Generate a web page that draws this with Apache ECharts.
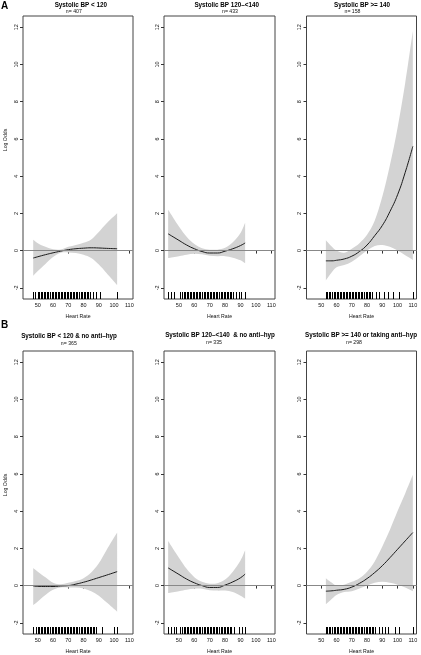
<!DOCTYPE html>
<html>
<head>
<meta charset="utf-8">
<script src="https://cdn.jsdelivr.net/npm/echarts@6/dist/echarts.min.js"></script>
<style>html,body{margin:0;padding:0;background:#fff;}#chart{width:421px;height:655px;}</style>
</head>
<body>
<div id="chart"></div>
<script>
// ---------- data ----------
const xTickVals = [50, 60, 70, 80, 90, 100, 110];
const yTickVals = [-2, 0, 2, 4, 6, 8, 10, 12];

const titles = [
  'Systolic BP < 120',
  'Systolic BP 120–<140',
  'Systolic BP >= 140',
  'Systolic BP < 120 & no anti–hyp',
  'Systolic BP 120–<140  & no anti–hyp',
  'Systolic BP >= 140 or taking anti–hyp'
];
const nLabels = ['n= 407', 'n= 433', 'n= 158', 'n= 365', 'n= 335', 'n= 298'];
const panelLetters = ['A', 'B'];

// Panel A1: SBP < 120
const hrA1  = [47, 50, 55, 60, 65, 70, 75, 80, 85, 90, 95, 102];
const fitA1 = [-0.4, -0.33, -0.22, -0.12, -0.03, 0.05, 0.1, 0.13, 0.15, 0.14, 0.12, 0.1];
const upA1  = [0.58, 0.4, 0.2, 0.07, 0.06, 0.2, 0.3, 0.42, 0.6, 1.0, 1.45, 2.0];
const loA1  = [-1.35, -1.1, -0.72, -0.35, -0.12, -0.1, -0.13, -0.22, -0.4, -0.75, -1.2, -1.85];
const rugA1 = [47, 48, 50, 51, 52, 53, 54, 55, 56, 57, 58, 59, 60, 61, 62, 63, 64, 65, 66, 67, 68, 69, 70, 71, 72, 73, 74, 75, 76, 77, 78, 79, 80, 81, 82, 83, 84, 86, 88, 91, 102];

// Panel A2: SBP 120-<140
const hrA2  = [43, 50, 55, 60, 65, 70, 75, 80, 85, 90, 93];
const fitA2 = [0.9, 0.55, 0.3, 0.1, -0.05, -0.13, -0.13, -0.03, 0.1, 0.27, 0.41];
const upA2  = [2.2, 1.3, 0.75, 0.35, 0.12, 0.05, 0.05, 0.15, 0.45, 0.95, 1.5];
const loA2  = [-0.4, -0.3, -0.22, -0.17, -0.2, -0.28, -0.3, -0.3, -0.38, -0.52, -0.68];
const rugA2 = [43, 45, 47, 51, 52, 53, 54, 55, 56, 57, 58, 59, 60, 61, 62, 63, 64, 65, 66, 67, 68, 69, 70, 71, 72, 73, 74, 75, 76, 77, 78, 79, 80, 81, 82, 83, 84, 85, 87, 89, 90, 93];

// Panel A3: SBP >= 140
const hrA3  = [53, 57, 60, 65, 70, 75, 80, 85, 90, 95, 100, 105, 110];
const fitA3 = [-0.55, -0.55, -0.52, -0.45, -0.3, -0.05, 0.3, 0.8, 1.35, 2.1, 3.0, 4.2, 5.6];
const upA3  = [0.55, 0.2, 0.0, -0.12, 0.1, 0.4, 0.85, 1.6, 2.9, 4.6, 6.6, 9.0, 11.8];
const loA3  = [-1.6, -1.15, -0.9, -0.78, -0.6, -0.3, 0.0, 0.25, 0.3, 0.2, 0.0, -0.25, -0.5];
const rugA3 = [53, 54, 55, 56, 57, 58, 59, 60, 61, 62, 63, 64, 65, 66, 67, 68, 69, 70, 71, 72, 73, 74, 75, 76, 77, 78, 79, 80, 81, 82, 83, 86, 88, 91, 94, 97, 101, 110];

// Panel B1: SBP < 120 & no anti-hyp
const hrB1  = [47, 50, 55, 60, 65, 70, 75, 80, 85, 90, 95, 102];
const fitB1 = [-0.02, -0.04, -0.05, -0.05, -0.02, 0.0, 0.08, 0.18, 0.3, 0.43, 0.56, 0.75];
const upB1  = [0.95, 0.75, 0.45, 0.15, 0.07, 0.15, 0.25, 0.4, 0.7, 1.2, 1.9, 2.85];
const loB1  = [-1.05, -0.85, -0.5, -0.22, -0.1, -0.1, -0.1, -0.15, -0.3, -0.55, -0.9, -1.4];
const rugB1 = [47, 49, 50, 51, 52, 53, 54, 55, 56, 57, 58, 59, 60, 61, 62, 63, 64, 65, 66, 67, 68, 69, 70, 71, 72, 73, 74, 75, 76, 77, 78, 79, 80, 81, 82, 83, 84, 85, 86, 87, 88, 92, 100, 102];

// Panel B2: SBP 120-<140 & no anti-hyp
const hrB2  = [43, 50, 55, 60, 65, 70, 75, 80, 85, 90, 93];
const fitB2 = [0.95, 0.6, 0.35, 0.15, 0.0, -0.1, -0.1, 0.03, 0.2, 0.42, 0.62];
const upB2  = [2.4, 1.5, 0.9, 0.45, 0.2, 0.1, 0.13, 0.33, 0.75, 1.35, 1.9];
const loB2  = [-0.4, -0.3, -0.22, -0.17, -0.17, -0.25, -0.27, -0.27, -0.35, -0.55, -0.7];
const rugB2 = [43, 45, 47, 48, 51, 52, 53, 54, 55, 56, 57, 58, 59, 60, 61, 62, 63, 64, 65, 66, 67, 68, 69, 70, 71, 72, 73, 74, 75, 76, 77, 78, 79, 80, 81, 82, 83, 84, 86, 89, 91, 93];

// Panel B3: SBP >= 140 or taking anti-hyp
const hrB3  = [53, 57, 60, 65, 70, 75, 80, 85, 90, 95, 100, 105, 110];
const fitB3 = [-0.3, -0.28, -0.25, -0.2, -0.08, 0.12, 0.38, 0.7, 1.07, 1.5, 1.95, 2.4, 2.85];
const upB3  = [0.4, 0.15, 0.0, 0.05, 0.2, 0.4, 0.75, 1.3, 2.1, 3.0, 4.0, 4.95, 5.95];
const loB3  = [-1.0, -0.7, -0.5, -0.35, -0.3, -0.15, 0.0, 0.15, 0.2, 0.15, 0.05, -0.1, -0.3];
const rugB3 = [53, 54, 55, 56, 57, 58, 59, 60, 61, 62, 63, 64, 65, 66, 67, 68, 69, 70, 71, 72, 73, 74, 75, 76, 77, 78, 79, 80, 81, 82, 83, 84, 85, 88, 90, 92, 94, 98, 101, 110];

// ---------- layout / style ----------
const X_MIN = 40.3, X_MAX = 112.4, Y_MIN = -2.6, Y_MAX = 12.6;
const FONT = '"Liberation Sans", Arial, Helvetica, sans-serif';
const gridRects = [
  [23, 16, 110, 283], [164, 16, 111, 283], [306.5, 16, 110, 283],
  [23, 351, 110, 283], [164, 351, 111, 283], [306.5, 351, 110, 283]
];
const titlePos = [[80.8, 5], [226.7, 5], [362, 5], [69, 336.5], [220, 335.5], [361, 335.5]];
const nPos = [[73.8, 11.7], [230, 11.7], [352.5, 11.7], [68.8, 343.5], [214, 342.5], [354, 342.5]];
const letterPos = [[4.5, 6], [4.5, 325.5]];
const logOddsPos = [[5.5, 140], [5.5, 485]];

const panels = [
  {hr: hrA1, fit: fitA1, up: upA1, lo: loA1, rug: rugA1},
  {hr: hrA2, fit: fitA2, up: upA2, lo: loA2, rug: rugA2},
  {hr: hrA3, fit: fitA3, up: upA3, lo: loA3, rug: rugA3},
  {hr: hrB1, fit: fitB1, up: upB1, lo: loB1, rug: rugB1},
  {hr: hrB2, fit: fitB2, up: upB2, lo: loB2, rug: rugB2},
  {hr: hrB3, fit: fitB3, up: upB3, lo: loB3, rug: rugB3}
];

// Catmull-Rom -> cubic bezier path through pixel points (rendering smoothing only)
function smoothSegs(pts, start) {
  let d = start ? 'M' + pts[0][0] + ' ' + pts[0][1] : 'L' + pts[0][0] + ' ' + pts[0][1];
  const n = pts.length;
  for (let i = 0; i < n - 1; i++) {
    const p0 = pts[Math.max(i - 1, 0)], p1 = pts[i], p2 = pts[i + 1], p3 = pts[Math.min(i + 2, n - 1)];
    const c1 = [p1[0] + (p2[0] - p0[0]) / 6, p1[1] + (p2[1] - p0[1]) / 6];
    const c2 = [p2[0] - (p3[0] - p1[0]) / 6, p2[1] - (p3[1] - p1[1]) / 6];
    d += ' C' + c1[0] + ' ' + c1[1] + ' ' + c2[0] + ' ' + c2[1] + ' ' + p2[0] + ' ' + p2[1];
  }
  return d;
}

const option = {
  animation: false,
  backgroundColor: '#ffffff',
  grid: [], xAxis: [], yAxis: [], series: [], graphic: []
};

panels.forEach((p, i) => {
  const [l, t, w, h] = gridRects[i];
  option.grid.push({left: l, top: t, width: w, height: h, show: true,
    borderColor: '#444', borderWidth: 1, backgroundColor: 'transparent'});
  option.xAxis.push({
    gridIndex: i, type: 'value', min: X_MIN, max: X_MAX,
    axisLine: {show: false}, splitLine: {show: false},
    axisTick: {show: true, customValues: xTickVals, length: 3, lineStyle: {color: '#333', width: 1}},
    axisLabel: {customValues: xTickVals, fontSize: 5.5, color: '#111', margin: 3, fontFamily: FONT},
    name: 'Heart Rate', nameLocation: 'middle', nameGap: 15,
    nameTextStyle: {fontSize: 5.2, color: '#111', fontFamily: FONT}
  });
  option.yAxis.push({
    gridIndex: i, type: 'value', min: Y_MIN, max: Y_MAX,
    axisLine: {show: false}, splitLine: {show: false},
    axisTick: {show: true, customValues: yTickVals, length: 3, lineStyle: {color: '#333', width: 1}},
    axisLabel: {customValues: yTickVals, rotate: 90, fontSize: 5.5, color: '#111', margin: 4, fontFamily: FONT}
  });
  // confidence band
  option.series.push({
    type: 'custom', xAxisIndex: i, yAxisIndex: i, silent: true, z: 2,
    data: p.hr.map((x, j) => [x, p.lo[j], p.up[j]]), encode: {x: 0, y: [1, 2]},
    renderItem: (params, api) => {
      if (params.dataIndex !== 0) return null;
      const top = p.hr.map((x, j) => api.coord([x, p.up[j]]));
      const bot = p.hr.map((x, j) => api.coord([x, p.lo[j]])).reverse();
      const d = smoothSegs(top, true) + ' ' + smoothSegs(bot, false) + ' Z';
      return {type: 'path', shape: {pathData: d}, style: {fill: '#d3d3d3', stroke: null}};
    },
    markLine: {silent: true, symbol: ['none', 'none'], label: {show: false},
      lineStyle: {color: '#888', type: 'solid', width: 1}, data: [{yAxis: 0}]}
  });
  // fitted curve
  option.series.push({
    type: 'line', xAxisIndex: i, yAxisIndex: i,
    data: p.hr.map((x, j) => [x, p.fit[j]]), smooth: true, symbol: 'none', silent: true,
    lineStyle: {color: '#1a1a1a', width: 1}, z: 4
  });
  // rug
  option.series.push({
    type: 'custom', xAxisIndex: i, yAxisIndex: i, silent: true, z: 4,
    data: p.rug.map(v => [v, Y_MIN]), encode: {x: 0, y: 1},
    renderItem: (params, api) => {
      const pt = api.coord([api.value(0), Y_MIN]);
      const x = Math.round(pt[0]) + 0.5;
      return {type: 'line', shape: {x1: x, y1: pt[1], x2: x, y2: pt[1] - 7},
        style: {stroke: '#000', lineWidth: 1}};
    }
  });
  option.graphic.push({type: 'text', x: titlePos[i][0], y: titlePos[i][1],
    style: {text: titles[i], fill: '#000', font: 'bold 6.3px ' + FONT, align: 'center', verticalAlign: 'middle'}});
  option.graphic.push({type: 'text', x: nPos[i][0], y: nPos[i][1],
    style: {text: nLabels[i], fill: '#111', font: '5.2px ' + FONT, align: 'center', verticalAlign: 'middle'}});
});

panelLetters.forEach((s, k) => {
  option.graphic.push({type: 'text', x: letterPos[k][0], y: letterPos[k][1],
    style: {text: s, fill: '#000', font: 'bold 10px ' + FONT, align: 'center', verticalAlign: 'middle'}});
  option.graphic.push({type: 'text', x: logOddsPos[k][0], y: logOddsPos[k][1], rotation: Math.PI / 2,
    style: {text: 'Log Odds', fill: '#111', font: '5.2px ' + FONT, align: 'center', verticalAlign: 'middle'}});
});

const chart = echarts.init(document.getElementById('chart'), null, {renderer: 'canvas'});
chart.setOption(option);
</script>
</body>
</html>
